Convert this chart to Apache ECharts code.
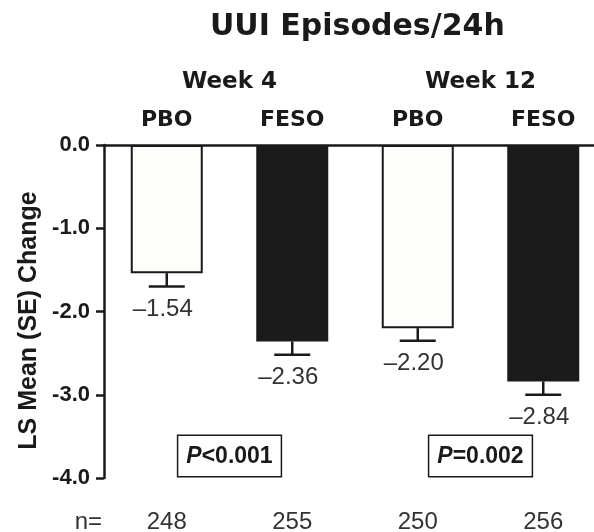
<!DOCTYPE html>
<html><head><meta charset="utf-8">
<script src="https://cdn.jsdelivr.net/npm/echarts@6/dist/echarts.min.js"></script>
<style>html,body{margin:0;padding:0;background:#fff}#c{width:594px;height:532px}</style>
</head><body><div id="c"></div>
<script>
const titleText = 'UUI Episodes/24h';
const groups = ['PBO', 'FESO', 'PBO', 'FESO'];
const weeks = ['Week 4', 'Week 12'];
const means = [-1.54, -2.36, -2.20, -2.84];
const seVals = [0.16, 0.16, 0.15, 0.16];
const nVals = ['248', '255', '250', '256'];
const pTexts = ['<0.001', '=0.002'];
const yMin = -4, yMax = 0, yStep = 1;

const INK = '#1a1a1a';
const chart = echarts.init(document.getElementById('c'), null, {renderer: 'canvas'});

const barData = means.map((v, i) => ({
  value: v,
  itemStyle: {
    color: groups[i] === 'PBO' ? '#fdfdfb' : INK,
    borderColor: INK, borderWidth: 2
  }
}));
const errData = means.map((v, i) => [i, v, seVals[i]]);
const pData = pTexts.map((t, i) => [i, yMin, t]);

chart.setOption({
  animation: false,
  title: {
    text: titleText, left: 205, top: 7,
    textStyle: {fontFamily: 'DejaVu Sans', fontWeight: 'bold', fontSize: 30, color: INK}
  },
  grid: {left: 104, top: 145, width: 502, height: 333, outerBoundsMode: 'none', containLabel: false},
  xAxis: [
    {
      type: 'category', position: 'top', data: groups,
      axisLine: {lineStyle: {color: INK, width: 2.5}},
      axisTick: {alignWithLabel: true, length: 8, lineStyle: {color: INK, width: 2.5}},
      axisLabel: {margin: 14, fontFamily: 'DejaVu Sans', fontWeight: 'bold', fontSize: 22, color: INK}
    },
    {
      type: 'category', position: 'top', data: weeks, gridIndex: 0,
      axisLine: {show: false}, axisTick: {show: false},
      axisLabel: {margin: 51, fontFamily: 'DejaVu Sans', fontWeight: 'bold', fontSize: 23, color: INK}
    },
    {
      type: 'category', position: 'bottom', data: nVals, offset: 44,
      axisLine: {show: false}, axisTick: {show: false},
      axisLabel: {margin: 0, verticalAlign: 'middle', fontFamily: 'Liberation Sans', fontSize: 24, color: '#333'},
      name: 'n=', nameLocation: 'start', nameGap: 2,
      nameTextStyle: {fontFamily: 'Liberation Sans', fontSize: 24, color: '#333', verticalAlign: 'middle', align: 'right'}
    }
  ],
  yAxis: {
    type: 'value', min: yMin, max: yMax, interval: yStep,
    name: 'LS Mean (SE) Change', nameLocation: 'middle', nameRotate: 90, nameGap: 62,
    nameTextStyle: {fontFamily: 'Liberation Sans', fontWeight: 'bold', fontSize: 25, color: INK, padding: [0, 18, 0, 0]},
    axisLine: {show: true, lineStyle: {color: INK, width: 2.5}},
    axisTick: {show: true, length: 8, lineStyle: {color: INK, width: 2.5}},
    splitLine: {show: false},
    axisLabel: {margin: 14, formatter: v => v.toFixed(1), fontFamily: 'Liberation Sans', fontWeight: 'bold', fontSize: 22, color: INK}
  },
  series: [
    {
      type: 'bar', xAxisIndex: 0, data: barData, barWidth: 72
    },
    {
      type: 'custom', xAxisIndex: 0, data: errData, encode: {x: 0, y: 1}, z: 5,
      renderItem: (params, api) => {
        const i = api.value(0), m = api.value(1), se = api.value(2);
        const p0 = api.coord([i, m]);
        const p1 = api.coord([i, m - se]);
        const st = {stroke: INK, lineWidth: 2.5};
        return {
          type: 'group', children: [
            {type: 'line', shape: {x1: p0[0], y1: p0[1], x2: p1[0], y2: p1[1]}, style: st},
            {type: 'line', shape: {x1: p1[0] - 18, y1: p1[1], x2: p1[0] + 18, y2: p1[1]}, style: st},
            {type: 'text', x: p1[0] - 4, y: p1[1] + 23, style: {
              text: '\u2013' + Math.abs(m).toFixed(2), align: 'center', verticalAlign: 'middle',
              fontFamily: 'Liberation Sans', fontSize: 24, fill: '#333'}}
          ]
        };
      }
    },
    {
      type: 'custom', xAxisIndex: 1, data: pData, encode: {x: 0, y: 1}, z: 5,
      renderItem: (params, api) => {
        const p = api.coord([api.value(0), api.value(1)]);
        const t = pData[params.dataIndex][2];
        return {
          type: 'text', x: p[0], y: p[1] - 22, style: {
            text: '{i|P}{b|' + t + '}', align: 'center', verticalAlign: 'middle',
            rich: {
              i: {fontFamily: 'Liberation Sans', fontStyle: 'italic', fontWeight: 'bold', fontSize: 23, fill: INK},
              b: {fontFamily: 'Liberation Sans', fontWeight: 'bold', fontSize: 23, fill: INK}
            },
            backgroundColor: '#fff', borderColor: INK, borderWidth: 1.5,
            padding: [9, 8, 8, 8]
          }
        };
      }
    }
  ]
});
</script></body></html>
